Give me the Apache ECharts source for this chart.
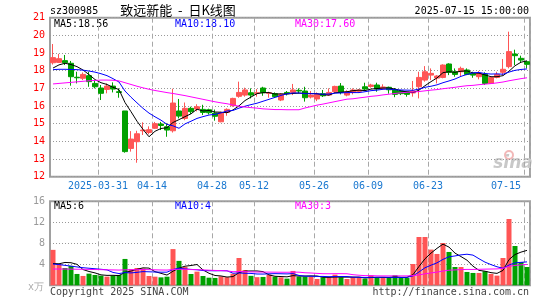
<!DOCTYPE html>
<html>
<head>
<meta charset="utf-8">
<script src="https://cdn.jsdelivr.net/npm/echarts@6.0.0/dist/echarts.min.js"></script>
<style>
  html, body { margin: 0; padding: 0; background: #fff; }
  #chart { width: 545px; height: 300px; }
</style>
</head>
<body>
<div id="chart"></div>
<script>
  // trading days shown (2025-03-19 .. 2025-07-15)
  const dates = [
    "2025-03-19", "2025-03-20", "2025-03-21", "2025-03-24", "2025-03-25", "2025-03-26", "2025-03-27", "2025-03-28",
    "2025-03-31", "2025-04-01", "2025-04-02", "2025-04-03", "2025-04-07", "2025-04-08", "2025-04-09", "2025-04-10",
    "2025-04-11", "2025-04-14", "2025-04-15", "2025-04-16", "2025-04-17", "2025-04-18", "2025-04-21", "2025-04-22",
    "2025-04-23", "2025-04-24", "2025-04-25", "2025-04-28", "2025-04-29", "2025-04-30", "2025-05-06", "2025-05-07",
    "2025-05-08", "2025-05-09", "2025-05-12", "2025-05-13", "2025-05-14", "2025-05-15", "2025-05-16", "2025-05-19",
    "2025-05-20", "2025-05-21", "2025-05-22", "2025-05-23", "2025-05-26", "2025-05-27", "2025-05-28", "2025-05-29",
    "2025-05-30", "2025-06-03", "2025-06-04", "2025-06-05", "2025-06-06", "2025-06-09", "2025-06-10", "2025-06-11",
    "2025-06-12", "2025-06-13", "2025-06-16", "2025-06-17", "2025-06-18", "2025-06-19", "2025-06-20", "2025-06-23",
    "2025-06-24", "2025-06-25", "2025-06-26", "2025-06-27", "2025-06-30", "2025-07-01", "2025-07-02", "2025-07-03",
    "2025-07-04", "2025-07-07", "2025-07-08", "2025-07-09", "2025-07-10", "2025-07-11", "2025-07-14", "2025-07-15"
  ];

  const opens = [
    18.45, 18.47, 18.57, 18.42, 17.63, 17.57, 17.72, 17.28, 17.02, 16.94,
    17.13, 16.81, 15.72, 13.60, 13.98, 14.60, 14.50, 14.74, 14.98, 14.83,
    14.60, 15.72, 15.30, 15.87, 15.83, 15.81, 15.79, 15.60, 15.11, 15.64,
    16.02, 16.55, 16.62, 16.75, 16.72, 17.02, 16.72, 16.70, 16.34, 16.77,
    16.77, 16.89, 16.85, 16.51, 16.40, 16.70, 16.62, 16.81, 17.13, 16.62,
    16.77, 16.83, 17.09, 17.11, 17.19, 16.98, 17.06, 16.94, 16.85, 16.81,
    16.74, 17.09, 17.47, 17.75, 17.58, 17.62, 18.38, 17.94, 17.94, 18.04,
    17.83, 17.66, 17.81, 17.28, 17.62, 17.91, 18.23, 18.94, 18.70, 18.51
  ];
  const closes = [
    18.74, 18.68, 18.45, 17.66, 17.60, 17.79, 17.38, 17.09, 16.72, 17.13,
    16.96, 16.77, 13.42, 14.13, 14.43, 14.64, 14.66, 15.00, 14.90, 14.64,
    16.17, 15.43, 15.87, 15.68, 15.96, 15.64, 15.62, 15.42, 15.62, 15.81,
    16.43, 16.77, 16.91, 16.62, 16.75, 16.75, 16.75, 16.53, 16.66, 16.70,
    16.91, 16.85, 16.47, 16.62, 16.66, 16.58, 16.77, 17.11, 16.77, 16.81,
    16.91, 16.91, 16.96, 17.19, 16.96, 17.08, 16.92, 16.66, 16.70, 16.66,
    16.85, 17.62, 17.94, 17.85, 17.70, 18.32, 17.91, 17.79, 18.13, 17.79,
    17.75, 17.85, 17.28, 17.62, 17.79, 18.08, 19.08, 18.85, 18.60, 18.36
  ];
  const lows = [
    18.35, 18.45, 18.32, 17.15, 17.28, 17.47, 17.09, 17.00, 16.34, 16.72,
    16.77, 16.47, 13.36, 13.42, 12.79, 14.36, 14.40, 14.70, 14.64, 14.26,
    14.50, 15.30, 15.20, 15.55, 15.70, 15.49, 15.52, 15.17, 15.08, 15.45,
    15.96, 16.47, 16.53, 16.43, 16.53, 16.58, 16.47, 16.47, 16.28, 16.60,
    16.62, 16.72, 16.25, 16.43, 16.28, 16.51, 16.57, 16.74, 16.66, 16.55,
    16.66, 16.74, 16.85, 17.04, 16.81, 16.94, 16.70, 16.50, 16.62, 16.53,
    16.53, 16.43, 17.38, 17.47, 17.28, 17.57, 17.75, 17.66, 17.70, 17.75,
    17.60, 17.51, 17.19, 17.25, 17.57, 17.75, 18.13, 18.32, 18.47, 18.13
  ];
  const highs = [
    19.51, 18.95, 18.89, 18.55, 17.94, 17.90, 17.94, 17.47, 17.19, 17.28,
    17.34, 17.00, 15.72, 14.58, 14.60, 15.08, 14.85, 15.10, 15.10, 15.02,
    16.98, 16.40, 16.20, 15.96, 16.10, 16.07, 15.85, 15.80, 15.68, 15.87,
    16.47, 17.38, 17.04, 17.00, 16.96, 17.09, 16.81, 16.77, 16.72, 16.85,
    17.25, 17.00, 17.09, 16.85, 16.77, 16.91, 17.00, 17.15, 17.30, 16.89,
    17.00, 16.96, 17.32, 17.26, 17.32, 17.23, 17.10, 17.02, 16.91, 16.85,
    17.42, 17.94, 18.26, 18.13, 17.75, 18.36, 18.42, 18.13, 18.23, 18.13,
    17.94, 17.98, 17.91, 17.66, 17.94, 18.66, 20.21, 19.19, 18.85, 18.55
  ];

  // volume, x万
  const volumes = [
    6.75, 4.06, 3.30, 3.70, 2.16, 1.78, 2.22, 1.97, 1.84, 1.65,
    1.84, 1.97, 5.02, 3.11, 3.30, 3.20, 1.77, 1.64, 1.51, 1.64,
    6.90, 4.65, 3.50, 2.15, 2.60, 1.77, 1.45, 1.40, 1.70, 1.55,
    2.20, 5.20, 2.92, 1.80, 1.55, 1.59, 2.03, 1.65, 1.52, 1.27,
    2.73, 1.65, 1.65, 1.65, 1.20, 1.52, 1.52, 2.03, 1.52, 1.20,
    1.52, 1.52, 1.27, 1.90, 1.40, 1.50, 1.40, 1.90, 1.40, 1.40,
    4.06, 9.20, 9.20, 6.80, 5.97, 8.06, 6.35, 3.49, 3.49, 2.54,
    2.35, 2.35, 2.67, 2.16, 1.84, 5.20, 12.63, 7.49, 4.44, 3.49
  ];

  // moving average lines
  const ma5 = [
    18.15, 18.33, 18.42, 18.35, 18.23, 18.04, 17.78, 17.50, 17.32, 17.22,
    17.06, 16.93, 16.20, 15.68, 15.14, 14.68, 14.26, 14.57, 14.73, 14.77,
    15.07, 15.23, 15.40, 15.56, 15.82, 15.72, 15.75, 15.66, 15.65, 15.62,
    15.78, 16.01, 16.31, 16.51, 16.70, 16.76, 16.76, 16.68, 16.69, 16.68,
    16.71, 16.73, 16.72, 16.71, 16.70, 16.64, 16.62, 16.75, 16.78, 16.81,
    16.87, 16.90, 16.87, 16.96, 16.99, 17.02, 17.02, 16.96, 16.86, 16.80,
    16.76, 16.90, 17.15, 17.38, 17.59, 17.89, 17.94, 17.91, 17.97, 17.99,
    17.87, 17.86, 17.76, 17.66, 17.66, 17.72, 17.97, 18.28, 18.48, 18.56
  ];
  const ma10 = [
    18.06, 18.08, 18.08, 18.07, 18.06, 18.03, 17.98, 17.92, 17.83, 17.72,
    17.55, 17.36, 16.85, 16.50, 16.18, 15.87, 15.60, 15.39, 15.20, 14.96,
    14.88, 14.74, 14.99, 15.14, 15.30, 15.40, 15.49, 15.53, 15.61, 15.72,
    15.75, 15.88, 15.99, 16.08, 16.16, 16.27, 16.38, 16.49, 16.60, 16.69,
    16.74, 16.74, 16.70, 16.70, 16.69, 16.67, 16.68, 16.73, 16.74, 16.76,
    16.76, 16.76, 16.81, 16.87, 16.90, 16.95, 16.96, 16.92, 16.91, 16.90,
    16.89, 16.96, 17.06, 17.12, 17.20, 17.32, 17.42, 17.53, 17.68, 17.79,
    17.88, 17.90, 17.84, 17.81, 17.82, 17.80, 17.92, 18.02, 18.07, 18.10
  ];
  const ma30 = [
    17.25, 17.28, 17.31, 17.34, 17.37, 17.40, 17.43, 17.45, 17.47, 17.47,
    17.46, 17.42, 17.32, 17.22, 17.12, 17.03, 16.95, 16.88, 16.82, 16.76,
    16.71, 16.65, 16.59, 16.52, 16.45, 16.38, 16.31, 16.24, 16.18, 16.13,
    16.06, 15.99, 15.94, 15.91, 15.88, 15.84, 15.82, 15.80, 15.80, 15.79,
    15.79, 15.79, 15.89, 15.97, 16.05, 16.11, 16.18, 16.25, 16.32, 16.39,
    16.41, 16.46, 16.50, 16.55, 16.58, 16.63, 16.67, 16.71, 16.75, 16.78,
    16.79, 16.82, 16.86, 16.90, 16.93, 16.98, 17.02, 17.06, 17.11, 17.15,
    17.17, 17.21, 17.24, 17.27, 17.31, 17.36, 17.43, 17.49, 17.55, 17.60
  ];
  const volMa5 = [
    4.15, 4.10, 4.35, 4.30, 3.99, 3.00, 2.63, 2.36, 1.99, 1.89,
    1.90, 1.85, 2.46, 2.72, 3.05, 3.32, 3.28, 2.60, 2.28, 1.95,
    2.69, 3.27, 3.64, 3.77, 3.96, 2.93, 2.29, 1.87, 1.78, 1.57,
    1.66, 2.41, 2.71, 2.73, 2.73, 2.61, 1.98, 1.72, 1.67, 1.61,
    1.84, 1.76, 1.76, 1.79, 1.77, 1.53, 1.51, 1.58, 1.56, 1.56,
    1.56, 1.56, 1.40, 1.48, 1.52, 1.52, 1.49, 1.62, 1.52, 1.52,
    2.03, 3.59, 5.05, 6.13, 7.04, 7.84, 7.27, 6.13, 5.47, 4.78,
    3.64, 2.84, 2.68, 2.41, 2.27, 2.84, 4.90, 5.86, 6.32, 6.65
  ];
  const volMa10 = [
    4.05, 3.95, 3.80, 3.65, 3.50, 3.35, 3.25, 3.15, 3.05, 2.94,
    2.45, 2.24, 2.42, 2.36, 2.47, 2.61, 2.57, 2.53, 2.50, 2.50,
    3.01, 3.27, 3.12, 3.03, 2.96, 2.81, 2.78, 2.76, 2.78, 2.77,
    2.30, 2.35, 2.29, 2.26, 2.15, 2.14, 2.19, 2.22, 2.20, 2.17,
    2.23, 1.87, 1.74, 1.73, 1.69, 1.69, 1.64, 1.67, 1.67, 1.67,
    1.55, 1.53, 1.50, 1.52, 1.54, 1.54, 1.53, 1.51, 1.50, 1.52,
    1.78, 2.54, 3.34, 3.83, 4.28, 4.94, 5.43, 5.59, 5.80, 5.92,
    5.75, 5.06, 4.41, 3.94, 3.53, 3.24, 3.87, 4.27, 4.37, 4.46
  ];
  const volMa30 = [
    3.10, 3.10, 3.10, 3.08, 3.06, 3.05, 3.03, 3.00, 2.98, 2.95,
    2.93, 2.90, 2.95, 2.97, 2.98, 3.00, 2.98, 2.95, 2.92, 2.90,
    3.00, 3.05, 3.05, 3.00, 2.98, 2.93, 2.88, 2.83, 2.80, 2.74,
    2.59, 2.62, 2.61, 2.55, 2.53, 2.52, 2.51, 2.50, 2.49, 2.48,
    2.51, 2.50, 2.39, 2.34, 2.27, 2.21, 2.20, 2.22, 2.22, 2.20,
    2.02, 1.92, 1.84, 1.84, 1.80, 1.79, 1.79, 1.80, 1.79, 1.79,
    1.85, 1.98, 2.19, 2.36, 2.51, 2.72, 2.87, 2.93, 2.99, 3.03,
    3.02, 3.05, 3.08, 3.10, 3.12, 3.24, 3.61, 3.79, 3.89, 3.97
  ];

  // x-axis marks
  const tickDates = ["2025-03-31", "2025-04-14", "2025-04-28", "2025-05-12", "2025-05-26", "2025-06-09", "2025-06-23", "2025-07-15"];
  const tickLabels = ["2025-03-31", "04-14", "04-28", "05-12", "05-26", "06-09", "06-23", "07-15"];

  const FONT = '"DejaVu Sans Mono", monospace';
  const UP = "#ff5555";
  const DOWN = "#00a000";
  const GRID_LINE = "#a8a8a8";

  const candleData = dates.map((d, i) => [opens[i], closes[i], lows[i], highs[i]]);
  const volumeData = volumes.map((v, i) => ({
    value: v,
    itemStyle: { color: closes[i] >= opens[i] ? UP : DOWN }
  }));

  function isTick(index) {
    return tickDates.indexOf(dates[index]) >= 0;
  }

  function maLine(name, data, color, xAxisIndex) {
    return {
      name: name,
      type: "line",
      xAxisIndex: xAxisIndex,
      yAxisIndex: xAxisIndex,
      data: data,
      symbol: "none",
      silent: true,
      lineStyle: { color: color, width: 1 }
    };
  }

  function text(str, x, y, color, align, extra) {
    return Object.assign({
      type: "text",
      x: x,
      y: y,
      style: {
        text: str,
        fill: color,
        font: "10px " + FONT,
        textAlign: align || "left",
        textVerticalAlign: "middle"
      }
    }, extra || {});
  }

  const xDashed = {
    show: true,
    interval: (index) => isTick(index),
    lineStyle: { color: GRID_LINE, type: [5, 3], width: 1 }
  };

  const chart = echarts.init(document.getElementById("chart"));

  chart.setOption({
    animation: false,
    backgroundColor: "#fff",
    textStyle: { fontFamily: FONT },
    grid: [
      { left: 50, width: 480, top: 17.7, height: 159, show: true, borderColor: "#a0a0a0", borderWidth: 2 },
      { left: 50, width: 480, top: 201.3, height: 84, show: true, borderColor: "#a0a0a0", borderWidth: 2 }
    ],
    xAxis: [
      {
        type: "category",
        gridIndex: 0,
        data: dates,
        boundaryGap: true,
        axisLine: { show: false },
        axisTick: { show: false },
        splitLine: xDashed,
        axisLabel: {
          interval: (index) => isTick(index),
          formatter: (value) => tickLabels[tickDates.indexOf(value)],
          color: "#1a78d0",
          fontSize: 10,
          fontFamily: FONT,
          margin: 5,
          padding: [0, 6, 0, 0],
          alignMaxLabel: "right"
        }
      },
      {
        type: "category",
        gridIndex: 1,
        data: dates,
        boundaryGap: true,
        axisLine: { show: false },
        axisTick: { show: false },
        axisLabel: { show: false },
        splitLine: xDashed
      }
    ],
    yAxis: [
      {
        type: "value",
        gridIndex: 0,
        min: 12,
        max: 21,
        interval: 1,
        axisLine: { show: false },
        axisTick: { show: false },
        axisLabel: { color: "#ff0000", fontSize: 10, fontFamily: FONT, margin: 5 },
        splitLine: { lineStyle: { color: "#999", type: [1, 2], width: 1 } }
      },
      {
        type: "value",
        gridIndex: 1,
        min: 0,
        max: 16,
        interval: 4,
        axisLine: { show: false },
        axisTick: { show: false },
        axisLabel: {
          color: "#999",
          fontSize: 10,
          fontFamily: FONT,
          margin: 5,
          formatter: (v) => (v === 0 ? "" : String(v))
        },
        splitLine: { lineStyle: { color: "#999", type: [1, 2], width: 1 } }
      }
    ],
    series: [
      {
        name: "K",
        type: "candlestick",
        xAxisIndex: 0,
        yAxisIndex: 0,
        data: candleData,
        barWidth: 5,
        itemStyle: {
          color: UP,
          color0: DOWN,
          borderColor: UP,
          borderColor0: DOWN,
          borderWidth: 1
        }
      },
      maLine("MA5", ma5, "#000000", 0),
      maLine("MA10", ma10, "#0000ff", 0),
      maLine("MA30", ma30, "#ff00ff", 0),
      {
        name: "VOL",
        type: "bar",
        xAxisIndex: 1,
        yAxisIndex: 1,
        data: volumeData,
        barWidth: 5
      },
      maLine("VMA5", volMa5, "#000000", 1),
      maLine("VMA10", volMa10, "#0000ff", 1),
      maLine("VMA30", volMa30, "#ff00ff", 1)
    ],
    graphic: [
      text("sz300985", 50, 11, "#000"),
      {
        type: "text",
        x: 178,
        y: 10,
        style: {
          text: "致远新能  -  日K线图",
          fill: "#000",
          font: '13px "Noto Sans CJK SC"',
          textAlign: "center",
          textVerticalAlign: "middle"
        }
      },
      text("2025-07-15 15:00:00", 529, 11, "#000", "right"),
      text("MA5:18.56", 54, 24, "#000"),
      text("MA10:18.10", 175, 24, "#0000ff"),
      text("MA30:17.60", 295, 24, "#ff00ff"),
      text("MA5:6", 54, 206, "#000"),
      text("MA10:4", 175, 206, "#0000ff"),
      text("MA30:3", 295, 206, "#ff00ff"),
      text("x万", 44, 287, "#aaa", "right"),
      text("Copyright 2025 SINA.COM", 50, 292, "#444"),
      text("http://finance.sina.com.cn", 529, 292, "#444", "right"),
      {
        type: "text",
        x: 513,
        y: 164,
        z: 0,
        style: {
          text: "sina",
          fill: "#c8c8c8",
          font: 'italic bold 17px "DejaVu Sans"',
          textAlign: "center",
          textVerticalAlign: "middle"
        }
      },
      {
        type: "circle",
        shape: { cx: 509, cy: 155, r: 4 },
        z: 0,
        style: { fill: "none", stroke: "#f2b8b8", lineWidth: 2 }
      }
    ]
  });
</script>
</body>
</html>
